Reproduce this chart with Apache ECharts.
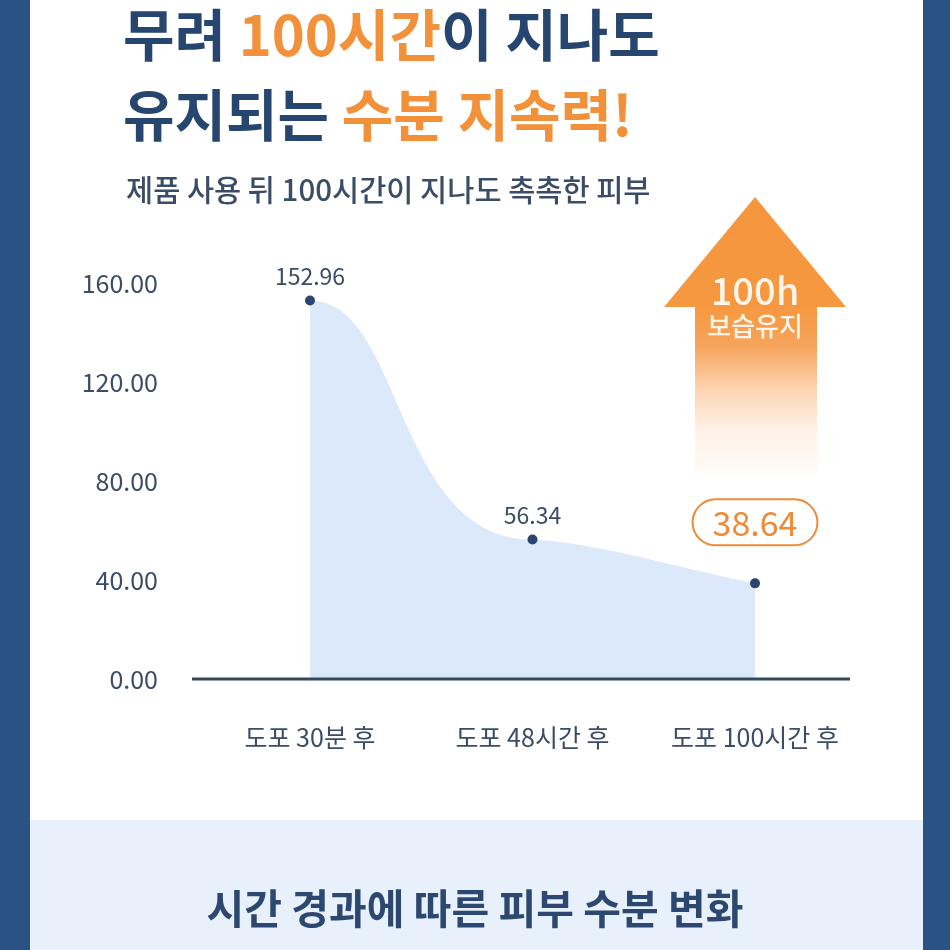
<!DOCTYPE html>
<html><head><meta charset="utf-8">
<script src="https://cdn.jsdelivr.net/npm/echarts@6/dist/echarts.min.js"></script>
<style>html,body{margin:0;padding:0;background:#2a5283}#c{width:950px;height:950px}</style>
</head><body><div id="c"></div><script>
const categories = ['도포 30분 후', '도포 48시간 후', '도포 100시간 후'];
const moisture = [152.96, 56.34, 38.64];
const yMin = 0, yMax = 160, yStep = 40;

const FONT = '"Noto Sans CJK KR", "Noto Sans", sans-serif';
const NAVY = '#26466f', ORANGE = '#f2913a', GREY = '#3b4d66';

const chart = echarts.init(document.getElementById('c'), null, {renderer: 'canvas'});

const seriesData = moisture.map((v, i) => {
  if (i === moisture.length - 1) {
    return {value: v, label: {
      fontSize: 34, color: '#ee8a38', borderColor: '#ee8a38', borderWidth: 2,
      borderRadius: 24, padding: [6, 19, 4, 19], distance: 34, backgroundColor: '#ffffff'
    }};
  }
  return v;
});

// smooth area drawn from the data through the axis scales (api.coord)
function renderArea(params, api) {
  if (params.dataIndex !== 0) return;
  const n = moisture.length;
  const pts = [];
  for (let i = 0; i < n; i++) pts.push(api.coord([i, api.value(1, i)]));
  const base = api.coord([0, 0])[1];
  let d = 'M' + pts[0][0] + ' ' + base + ' L' + pts[0][0] + ' ' + pts[0][1];
  for (let i = 1; i < n; i++) {
    const a = pts[i - 1], b = pts[i];
    const dx = b[0] - a[0], dy = b[1] - a[1];
    let c0, c1;
    if (i === n - 1) {
      c0 = [a[0] + 0.3 * dx, a[1] + 0.08 * dy];
      c1 = [b[0] - 0.35 * dx, b[1] - 0.35 * dy];
    } else {
      c0 = [a[0] + 0.42 * dx, a[1]];
      c1 = [b[0] - 0.62 * dx, b[1]];
    }
    d += ' C' + c0[0] + ' ' + c0[1] + ' ' + c1[0] + ' ' + c1[1] + ' ' + b[0] + ' ' + b[1];
  }
  d += ' L' + pts[n - 1][0] + ' ' + base + ' Z';
  return {type: 'path', shape: {pathData: d}, style: {fill: '#dbe9fb'}, silent: true};
}

const option = {
  backgroundColor: '#2a5283',
  textStyle: {fontFamily: FONT},
  title: [
    {text: '{a|무려 }{b|100시간}{a|이 지나도}', left: 118, top: 2,
     textStyle: {rich: {a: {fontSize: 56, fontWeight: 'bold', color: NAVY, fontFamily: FONT},
                        b: {fontSize: 56, fontWeight: 'bold', color: ORANGE, fontFamily: FONT}}}},
    {text: '{a|유지되는 }{b|수분 지속력!}', left: 118, top: 82,
     textStyle: {rich: {a: {fontSize: 56, fontWeight: 'bold', color: NAVY, fontFamily: FONT},
                        b: {fontSize: 56, fontWeight: 'bold', color: ORANGE, fontFamily: FONT}}}},
    {text: '제품 사용 뒤 100시간이 지나도 촉촉한 피부', left: 121, top: 170,
     textStyle: {fontSize: 29.5, fontWeight: 500, color: GREY, fontFamily: FONT}},
    {text: '시간 경과에 따른 피부 수분 변화', left: 'center', top: 883,
     textStyle: {fontSize: 41, fontWeight: 'bold', color: '#2d4870', fontFamily: FONT}}
  ],
  grid: {left: 310, right: 195, top: 283, bottom: 271},
  xAxis: {
    type: 'category', data: categories, boundaryGap: false,
    axisLine: {show: false}, axisTick: {show: false}, splitLine: {show: false},
    axisLabel: {margin: 46, fontSize: 25, color: GREY, fontFamily: FONT}
  },
  yAxis: {
    type: 'value', min: yMin, max: yMax, interval: yStep,
    axisLine: {show: false}, axisTick: {show: false}, splitLine: {show: false},
    axisLabel: {margin: 152, fontSize: 25, color: GREY, fontFamily: FONT,
                formatter: v => v.toFixed(2)}
  },
  series: [
    {
      type: 'custom', renderItem: renderArea, data: moisture.map((v, i) => [i, v]),
      z: 1, silent: true, clip: false
    },
    {
      type: 'line', data: seriesData,
      symbol: 'circle', symbolSize: 10,
      lineStyle: {width: 0, opacity: 0},
      itemStyle: {color: '#2b4470'},
      label: {show: true, position: 'top', distance: 8, fontSize: 23, color: GREY, fontFamily: FONT,
              formatter: p => p.value.toFixed(2)},
      z: 3
    }
  ],
  graphic: []
};
chart.setOption(option);

const y0 = chart.convertToPixel({yAxisIndex: 0}, 0);
chart.setOption({graphic: [
  {type: 'rect', z: -10, silent: true, shape: {x: 30, y: -30, width: 893, height: 1000, r: 22}, style: {fill: '#ffffff'}},
  {type: 'rect', z: -9, silent: true, shape: {x: 30, y: 820, width: 893, height: 140}, style: {fill: '#e7f0fb'}},
  {type: 'line', z: 5, silent: true, shape: {x1: 192, y1: y0, x2: 850, y2: y0}, style: {stroke: '#34495f', lineWidth: 3}},
  {type: 'polygon', z: 1, silent: true,
   shape: {points: [[755,197],[846,307],[817,307],[817,484],[695,484],[695,307],[664,307]]},
   style: {fill: new echarts.graphic.LinearGradient(0, 0, 0, 1, [
     {offset: 0, color: '#f5963e'}, {offset: 0.38, color: '#f6983f'},
     {offset: 0.52, color: '#f7a45c'}, {offset: 0.67, color: '#fcd4b2'},
     {offset: 0.81, color: '#fff1e6'}, {offset: 0.95, color: '#fffaf6'}, {offset: 1, color: 'rgba(255,255,255,0)'}])}},
  {type: 'text', z: 6, silent: true, x: 755, y: 291, style: {text: '100h', fill: '#fff5ea', font: '500 38px ' + FONT, textAlign: 'center', textVerticalAlign: 'middle'}},
  {type: 'text', z: 6, silent: true, x: 755, y: 326, style: {text: '보습유지', fill: '#fff5ea', font: '500 26px ' + FONT, textAlign: 'center', textVerticalAlign: 'middle'}}
]});
</script></body></html>
